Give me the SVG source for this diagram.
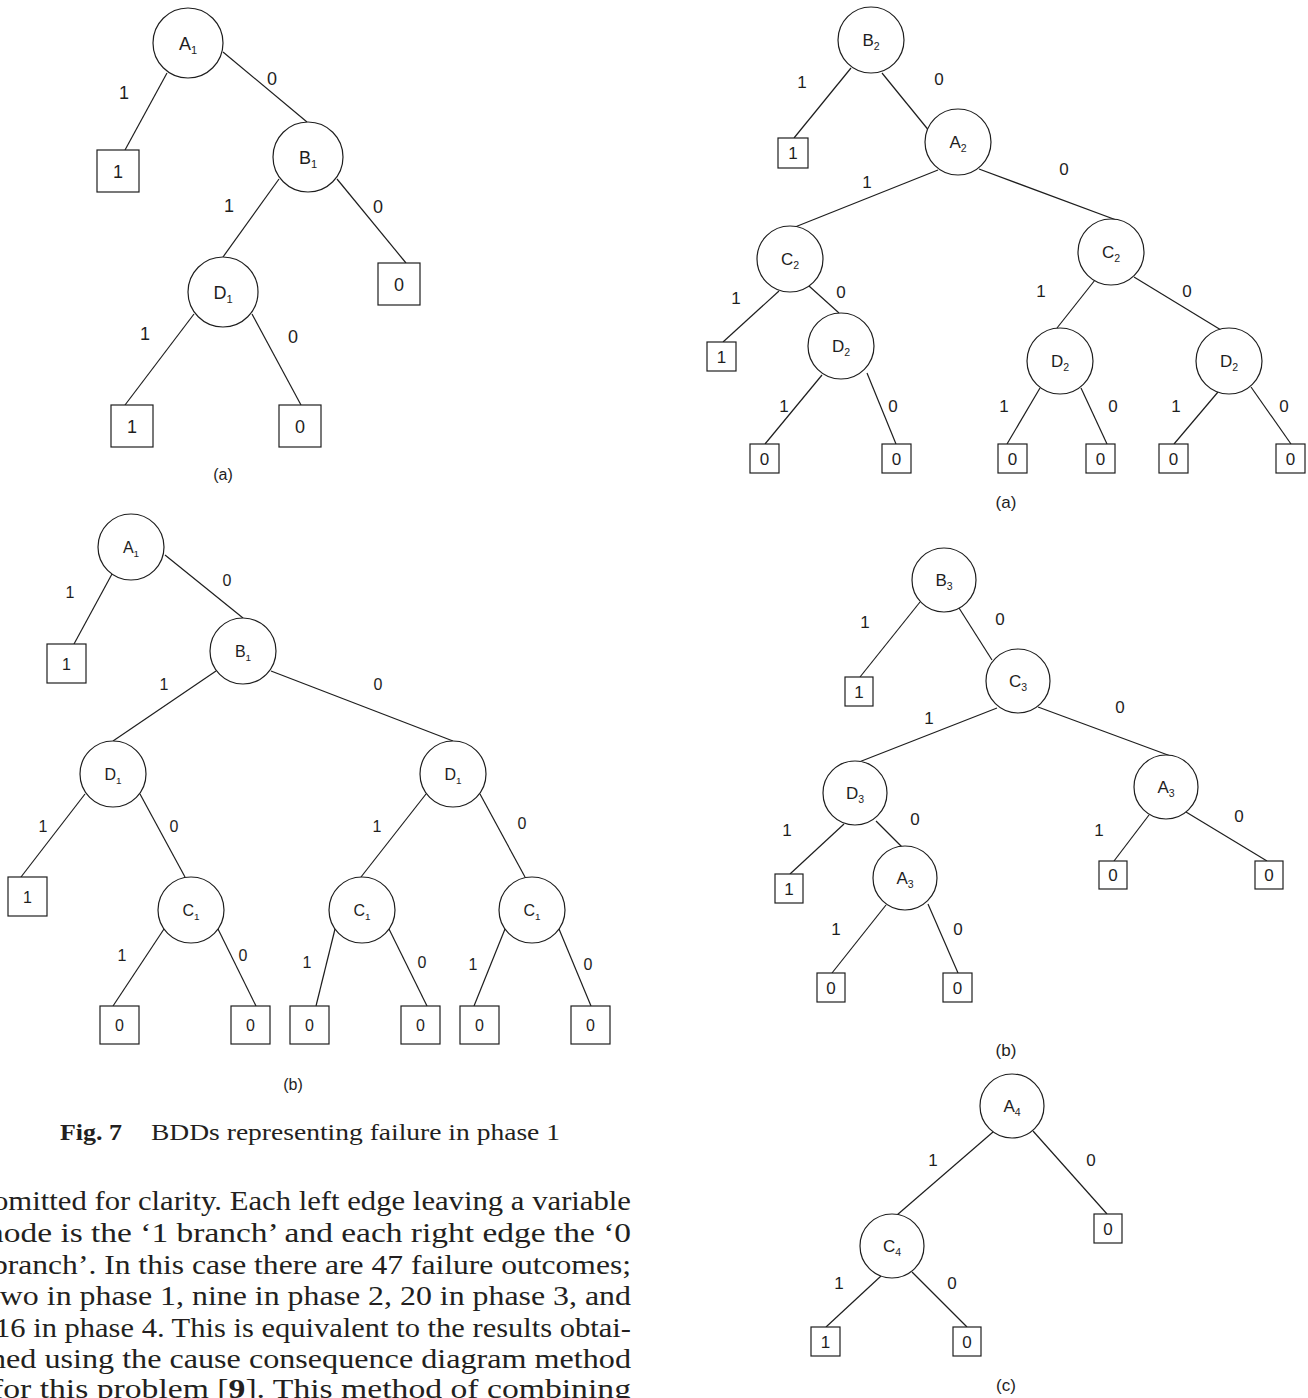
<svg xmlns="http://www.w3.org/2000/svg" width="1308" height="1398" viewBox="0 0 1308 1398">
  <style>
    .bg { fill: #ffffff; }
    .edges line { stroke: #1e1e1e; stroke-width: 1.2; fill: none; }
    .node circle { fill: #ffffff; stroke: #1e1e1e; stroke-width: 1.2; }
    .node rect { fill: #ffffff; stroke: #1e1e1e; stroke-width: 1.2; }
    text { font-family: "Liberation Sans", Arial, sans-serif; fill: #1e1e1e; }
    .f18 text { font-size: 18px; }
    .f16 text { font-size: 16px; }
    .f17 text { font-size: 17px; }
    .c { text-anchor: middle; }
    .sub { font-size: 0.62em; }
    .serif { font-family: "Liberation Serif", "Times New Roman", serif; fill: #231f20; }
  </style>
  <rect class="bg" x="0" y="0" width="1308" height="1398"/>

  <!-- ===== Phase 1, diagram (a) ===== -->
  <g id="p1a" class="f18">
    <g id="p1a-edges" class="edges">
      <line x1="167" y1="73" x2="125" y2="150"/>
      <line x1="223" y1="52" x2="307" y2="122"/>
      <line x1="279" y1="179" x2="223" y2="257"/>
      <line x1="337" y1="179" x2="406" y2="263"/>
      <line x1="194" y1="314" x2="125" y2="405"/>
      <line x1="252" y1="314" x2="301" y2="405"/>
    </g>
    <g id="p1a-labels">
      <text class="c" x="124" y="98.5">1</text>
      <text class="c" x="272" y="84.5">0</text>
      <text class="c" x="229" y="211.5">1</text>
      <text class="c" x="378" y="212.5">0</text>
      <text class="c" x="145" y="339.5">1</text>
      <text class="c" x="293" y="342.5">0</text>
    </g>
    <g id="p1a-A1" class="node"><circle cx="188" cy="43" r="35"/><text class="c" x="188" y="50">A<tspan class="sub" dy="4">1</tspan></text></g>
    <g id="p1a-B1" class="node"><circle cx="308" cy="157" r="35"/><text class="c" x="308" y="164">B<tspan class="sub" dy="4">1</tspan></text></g>
    <g id="p1a-D1" class="node"><circle cx="223" cy="292" r="35"/><text class="c" x="223" y="299">D<tspan class="sub" dy="4">1</tspan></text></g>
    <g id="p1a-T1" class="node"><rect x="97" y="150" width="42" height="42"/><text class="c" x="118" y="177.5">1</text></g>
    <g id="p1a-T2" class="node"><rect x="378" y="263" width="42" height="42"/><text class="c" x="399" y="290.5">0</text></g>
    <g id="p1a-T3" class="node"><rect x="111" y="405" width="42" height="42"/><text class="c" x="132" y="432.5">1</text></g>
    <g id="p1a-T4" class="node"><rect x="279" y="405" width="42" height="42"/><text class="c" x="300" y="432.5">0</text></g>
    <text class="c" x="223" y="480" style="font-size:16px">(a)</text>
  </g>

  <!-- ===== Phase 1, diagram (b) ===== -->
  <g id="p1b" class="f16">
    <g id="p1b-edges" class="edges">
      <line x1="112" y1="574" x2="74" y2="644"/>
      <line x1="165" y1="555" x2="243" y2="618"/>
      <line x1="216" y1="671" x2="113" y2="741"/>
      <line x1="271" y1="671" x2="453" y2="741"/>
      <line x1="85" y1="794" x2="21" y2="877"/>
      <line x1="140" y1="794" x2="185" y2="877"/>
      <line x1="426" y1="794" x2="361" y2="877"/>
      <line x1="480" y1="794" x2="525" y2="877"/>
      <line x1="164" y1="929" x2="113" y2="1006"/>
      <line x1="218" y1="929" x2="256" y2="1006"/>
      <line x1="335" y1="929" x2="316" y2="1006"/>
      <line x1="389" y1="929" x2="427" y2="1006"/>
      <line x1="505" y1="929" x2="474" y2="1006"/>
      <line x1="559" y1="929" x2="591" y2="1006"/>
    </g>
    <g id="p1b-labels">
      <text class="c" x="70" y="598">1</text>
      <text class="c" x="227" y="586">0</text>
      <text class="c" x="164" y="690">1</text>
      <text class="c" x="378" y="690">0</text>
      <text class="c" x="43" y="832">1</text>
      <text class="c" x="174" y="832">0</text>
      <text class="c" x="377" y="832">1</text>
      <text class="c" x="522" y="829">0</text>
      <text class="c" x="122" y="961">1</text>
      <text class="c" x="243" y="961">0</text>
      <text class="c" x="307" y="968">1</text>
      <text class="c" x="422" y="968">0</text>
      <text class="c" x="473" y="970">1</text>
      <text class="c" x="588" y="970">0</text>
    </g>
    <g id="p1b-A1" class="node"><circle cx="131" cy="547" r="33"/><text class="c" x="131" y="553">A<tspan class="sub" dy="4">1</tspan></text></g>
    <g id="p1b-B1" class="node"><circle cx="243" cy="651" r="33"/><text class="c" x="243" y="657">B<tspan class="sub" dy="4">1</tspan></text></g>
    <g id="p1b-D1a" class="node"><circle cx="113" cy="774" r="33"/><text class="c" x="113" y="780">D<tspan class="sub" dy="4">1</tspan></text></g>
    <g id="p1b-D1b" class="node"><circle cx="453" cy="774" r="33"/><text class="c" x="453" y="780">D<tspan class="sub" dy="4">1</tspan></text></g>
    <g id="p1b-C1a" class="node"><circle cx="191" cy="910" r="33"/><text class="c" x="191" y="916">C<tspan class="sub" dy="4">1</tspan></text></g>
    <g id="p1b-C1b" class="node"><circle cx="362" cy="910" r="33"/><text class="c" x="362" y="916">C<tspan class="sub" dy="4">1</tspan></text></g>
    <g id="p1b-C1c" class="node"><circle cx="532" cy="910" r="33"/><text class="c" x="532" y="916">C<tspan class="sub" dy="4">1</tspan></text></g>
    <g id="p1b-T1" class="node"><rect x="47" y="644" width="39" height="39"/><text class="c" x="66.5" y="669.5">1</text></g>
    <g id="p1b-T2" class="node"><rect x="8" y="877" width="39" height="39"/><text class="c" x="27.5" y="902.5">1</text></g>
    <g id="p1b-T3" class="node"><rect x="100" y="1006" width="39" height="38"/><text class="c" x="119.5" y="1031">0</text></g>
    <g id="p1b-T4" class="node"><rect x="231" y="1006" width="39" height="38"/><text class="c" x="250.5" y="1031">0</text></g>
    <g id="p1b-T5" class="node"><rect x="290" y="1006" width="39" height="38"/><text class="c" x="309.5" y="1031">0</text></g>
    <g id="p1b-T6" class="node"><rect x="401" y="1006" width="39" height="38"/><text class="c" x="420.5" y="1031">0</text></g>
    <g id="p1b-T7" class="node"><rect x="460" y="1006" width="39" height="38"/><text class="c" x="479.5" y="1031">0</text></g>
    <g id="p1b-T8" class="node"><rect x="571" y="1006" width="39" height="38"/><text class="c" x="590.5" y="1031">0</text></g>
    <text class="c" x="293" y="1090">(b)</text>
  </g>

  <!-- Caption and running text -->
  <g id="caption">
    <text class="serif" x="60" y="1140" style="font-size:24px;font-weight:bold" textLength="62" lengthAdjust="spacingAndGlyphs">Fig. 7</text>
    <text class="serif" x="151" y="1140" style="font-size:24px" textLength="409" lengthAdjust="spacingAndGlyphs">BDDs representing failure in phase 1</text>
  </g>
  <g id="body-text" class="serif" style="font-size:28px">
    <text class="serif" x="-7" y="1210" textLength="638" lengthAdjust="spacingAndGlyphs">omitted for clarity. Each left edge leaving a variable</text>
    <text class="serif" x="-13" y="1242" textLength="644" lengthAdjust="spacingAndGlyphs">node is the ‘1 branch’ and each right edge the ‘0</text>
    <text class="serif" x="-8" y="1274" textLength="639" lengthAdjust="spacingAndGlyphs">branch’. In this case there are 47 failure outcomes;</text>
    <text class="serif" x="-9" y="1305" textLength="640" lengthAdjust="spacingAndGlyphs">two in phase 1, nine in phase 2, 20 in phase 3, and</text>
    <text class="serif" x="-5" y="1337" textLength="636" lengthAdjust="spacingAndGlyphs">16 in phase 4. This is equivalent to the results obtai-</text>
    <text class="serif" x="-10" y="1368" textLength="641" lengthAdjust="spacingAndGlyphs">ned using the cause consequence diagram method</text>
    <text class="serif" x="-8" y="1398" textLength="639" lengthAdjust="spacingAndGlyphs">for this problem [<tspan style="font-weight:bold">9</tspan>]. This method of combining</text>
  </g>

  <!-- ===== Phase 2, diagram (a) ===== -->
  <g id="p2a" class="f17">
    <g id="p2a-edges" class="edges">
      <line x1="851" y1="68" x2="794" y2="138"/>
      <line x1="882" y1="73" x2="930" y2="132"/>
      <line x1="938" y1="170" x2="795" y2="227"/>
      <line x1="979" y1="169" x2="1127" y2="224"/>
      <line x1="779" y1="291" x2="723" y2="342"/>
      <line x1="809" y1="286" x2="839" y2="313"/>
      <line x1="1095" y1="280" x2="1057" y2="328"/>
      <line x1="1134" y1="277" x2="1221" y2="330"/>
      <line x1="822" y1="375" x2="765" y2="444"/>
      <line x1="867" y1="373" x2="896" y2="444"/>
      <line x1="1040" y1="388" x2="1007" y2="444"/>
      <line x1="1081" y1="388" x2="1107" y2="444"/>
      <line x1="1218" y1="392" x2="1174" y2="444"/>
      <line x1="1251" y1="387" x2="1291" y2="444"/>
    </g>
    <g id="p2a-labels">
      <text class="c" x="802" y="88">1</text>
      <text class="c" x="939" y="85">0</text>
      <text class="c" x="867" y="188">1</text>
      <text class="c" x="1064" y="175">0</text>
      <text class="c" x="736" y="304">1</text>
      <text class="c" x="841" y="298">0</text>
      <text class="c" x="1041" y="297">1</text>
      <text class="c" x="1187" y="297">0</text>
      <text class="c" x="784" y="412">1</text>
      <text class="c" x="893" y="412">0</text>
      <text class="c" x="1004" y="412">1</text>
      <text class="c" x="1113" y="412">0</text>
      <text class="c" x="1176" y="412">1</text>
      <text class="c" x="1284" y="412">0</text>
    </g>
    <g id="p2a-B2" class="node"><circle cx="871" cy="40" r="33"/><text class="c" x="871" y="46">B<tspan class="sub" dy="4">2</tspan></text></g>
    <g id="p2a-A2" class="node"><circle cx="958" cy="142" r="33"/><text class="c" x="958" y="148">A<tspan class="sub" dy="4">2</tspan></text></g>
    <g id="p2a-C2a" class="node"><circle cx="790" cy="259" r="33"/><text class="c" x="790" y="265">C<tspan class="sub" dy="4">2</tspan></text></g>
    <g id="p2a-C2b" class="node"><circle cx="1111" cy="252" r="33"/><text class="c" x="1111" y="258">C<tspan class="sub" dy="4">2</tspan></text></g>
    <g id="p2a-D2a" class="node"><circle cx="841" cy="346" r="33"/><text class="c" x="841" y="352">D<tspan class="sub" dy="4">2</tspan></text></g>
    <g id="p2a-D2b" class="node"><circle cx="1060" cy="361" r="33"/><text class="c" x="1060" y="367">D<tspan class="sub" dy="4">2</tspan></text></g>
    <g id="p2a-D2c" class="node"><circle cx="1229" cy="361" r="33"/><text class="c" x="1229" y="367">D<tspan class="sub" dy="4">2</tspan></text></g>
    <g id="p2a-T1" class="node"><rect x="778" y="138" width="30" height="30"/><text class="c" x="793" y="159">1</text></g>
    <g id="p2a-T2" class="node"><rect x="707" y="342" width="29" height="29"/><text class="c" x="721.5" y="362.5">1</text></g>
    <g id="p2a-T3" class="node"><rect x="750" y="444" width="29" height="29"/><text class="c" x="764.5" y="464.5">0</text></g>
    <g id="p2a-T4" class="node"><rect x="882" y="444" width="29" height="29"/><text class="c" x="896.5" y="464.5">0</text></g>
    <g id="p2a-T5" class="node"><rect x="998" y="444" width="29" height="29"/><text class="c" x="1012.5" y="464.5">0</text></g>
    <g id="p2a-T6" class="node"><rect x="1086" y="444" width="29" height="29"/><text class="c" x="1100.5" y="464.5">0</text></g>
    <g id="p2a-T7" class="node"><rect x="1159" y="444" width="29" height="29"/><text class="c" x="1173.5" y="464.5">0</text></g>
    <g id="p2a-T8" class="node"><rect x="1276" y="444" width="29" height="29"/><text class="c" x="1290.5" y="464.5">0</text></g>
    <text class="c" x="1006" y="508">(a)</text>
  </g>

  <!-- ===== Phase 3, diagram (b) ===== -->
  <g id="p3b" class="f17">
    <g id="p3b-edges" class="edges">
      <line x1="920" y1="602" x2="860" y2="677"/>
      <line x1="959" y1="608" x2="992" y2="660"/>
      <line x1="997" y1="708" x2="859" y2="762"/>
      <line x1="1038" y1="707" x2="1176" y2="758"/>
      <line x1="844" y1="824" x2="790" y2="874"/>
      <line x1="876" y1="821" x2="902" y2="847"/>
      <line x1="1149" y1="815" x2="1114" y2="861"/>
      <line x1="1186" y1="812" x2="1267" y2="861"/>
      <line x1="886" y1="905" x2="832" y2="973"/>
      <line x1="928" y1="904" x2="958" y2="973"/>
    </g>
    <g id="p3b-labels">
      <text class="c" x="865" y="628">1</text>
      <text class="c" x="1000" y="625">0</text>
      <text class="c" x="929" y="724">1</text>
      <text class="c" x="1120" y="713">0</text>
      <text class="c" x="787" y="836">1</text>
      <text class="c" x="915" y="825">0</text>
      <text class="c" x="1099" y="836">1</text>
      <text class="c" x="1239" y="822">0</text>
      <text class="c" x="836" y="935">1</text>
      <text class="c" x="958" y="935">0</text>
    </g>
    <g id="p3b-B3" class="node"><circle cx="944" cy="580" r="32"/><text class="c" x="944" y="586">B<tspan class="sub" dy="4">3</tspan></text></g>
    <g id="p3b-C3" class="node"><circle cx="1018" cy="681" r="32"/><text class="c" x="1018" y="687">C<tspan class="sub" dy="4">3</tspan></text></g>
    <g id="p3b-D3" class="node"><circle cx="855" cy="793" r="32"/><text class="c" x="855" y="799">D<tspan class="sub" dy="4">3</tspan></text></g>
    <g id="p3b-A3a" class="node"><circle cx="1166" cy="787" r="32"/><text class="c" x="1166" y="793">A<tspan class="sub" dy="4">3</tspan></text></g>
    <g id="p3b-A3b" class="node"><circle cx="905" cy="878" r="32"/><text class="c" x="905" y="884">A<tspan class="sub" dy="4">3</tspan></text></g>
    <g id="p3b-T1" class="node"><rect x="845" y="677" width="28" height="29"/><text class="c" x="859" y="697.5">1</text></g>
    <g id="p3b-T2" class="node"><rect x="775" y="874" width="28" height="29"/><text class="c" x="789" y="894.5">1</text></g>
    <g id="p3b-T3" class="node"><rect x="1099" y="861" width="28" height="28"/><text class="c" x="1113" y="881">0</text></g>
    <g id="p3b-T4" class="node"><rect x="1255" y="861" width="28" height="28"/><text class="c" x="1269" y="881">0</text></g>
    <g id="p3b-T5" class="node"><rect x="817" y="973" width="28" height="29"/><text class="c" x="831" y="993.5">0</text></g>
    <g id="p3b-T6" class="node"><rect x="943" y="973" width="29" height="29"/><text class="c" x="957.5" y="993.5">0</text></g>
    <text class="c" x="1006" y="1056">(b)</text>
  </g>

  <!-- ===== Phase 4, diagram (c) ===== -->
  <g id="p4c" class="f17">
    <g id="p4c-edges" class="edges">
      <line x1="993" y1="1132" x2="897" y2="1215"/>
      <line x1="1033" y1="1131" x2="1107" y2="1214"/>
      <line x1="881" y1="1276" x2="826" y2="1327"/>
      <line x1="912" y1="1272" x2="967" y2="1327"/>
    </g>
    <g id="p4c-labels">
      <text class="c" x="933" y="1166">1</text>
      <text class="c" x="1091" y="1166">0</text>
      <text class="c" x="839" y="1289">1</text>
      <text class="c" x="952" y="1289">0</text>
    </g>
    <g id="p4c-A4" class="node"><circle cx="1012" cy="1106" r="32"/><text class="c" x="1012" y="1112">A<tspan class="sub" dy="4">4</tspan></text></g>
    <g id="p4c-C4" class="node"><circle cx="892" cy="1246" r="32"/><text class="c" x="892" y="1252">C<tspan class="sub" dy="4">4</tspan></text></g>
    <g id="p4c-T1" class="node"><rect x="1094" y="1214" width="28" height="29"/><text class="c" x="1108" y="1234.5">0</text></g>
    <g id="p4c-T2" class="node"><rect x="811" y="1327" width="29" height="29"/><text class="c" x="825.5" y="1347.5">1</text></g>
    <g id="p4c-T3" class="node"><rect x="953" y="1327" width="28" height="29"/><text class="c" x="967" y="1347.5">0</text></g>
    <text class="c" x="1006" y="1391">(c)</text>
  </g>
</svg>
